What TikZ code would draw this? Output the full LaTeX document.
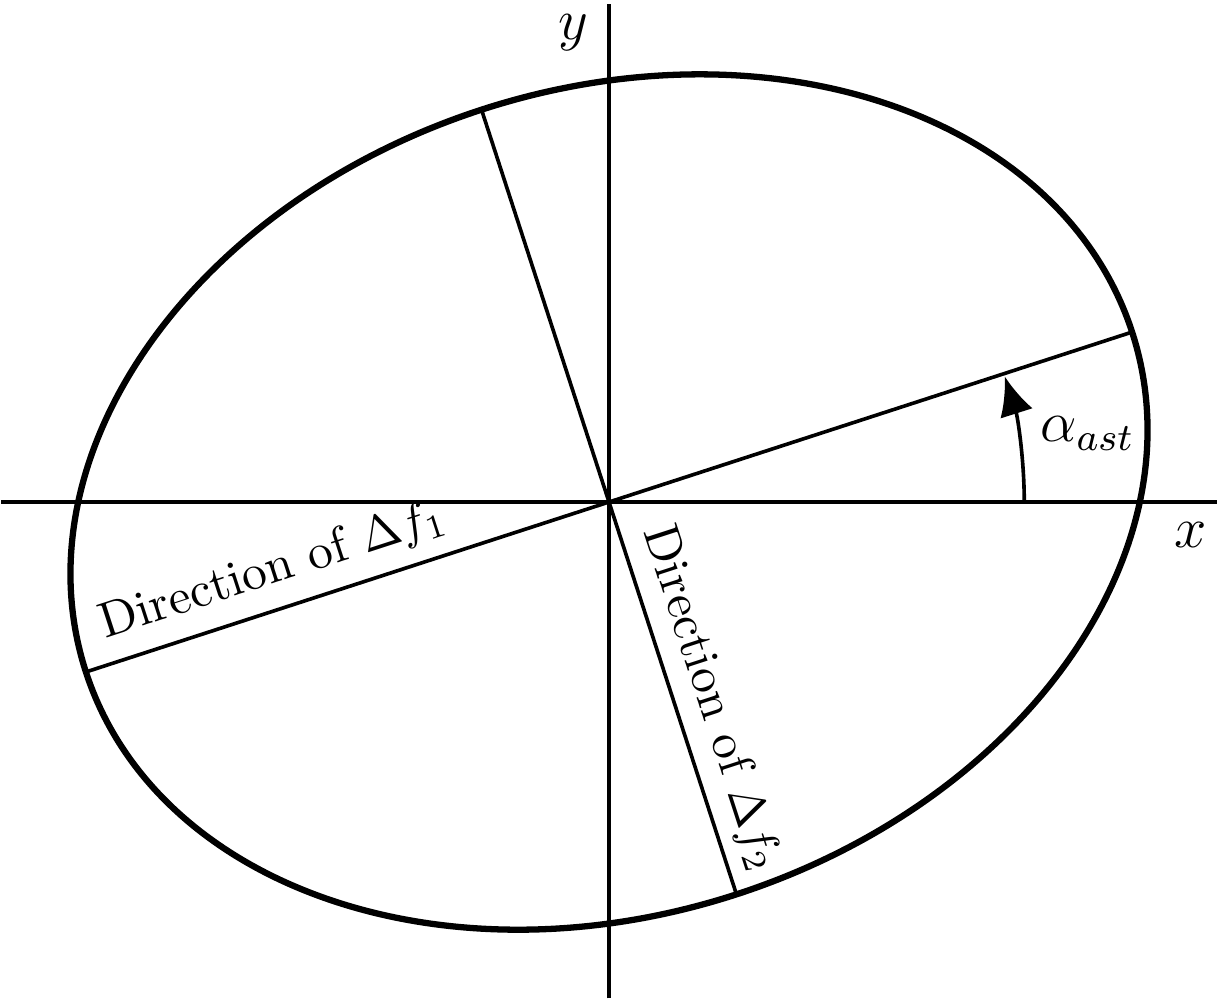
\documentclass[tikz,border=0pt]{standalone}
\usetikzlibrary{arrows.meta}
\begin{document}
\begin{tikzpicture}[
  axis/.style={line width=0.75pt},
  dirline/.style={line width=0.75pt},
  ell/.style={line width=1.3pt},
  lbl/.style={font=\fontsize{10.3}{12}\selectfont},
  biglbl/.style={font=\fontsize{12}{14}\selectfont},
]
\useasboundingbox (-4.429,-3.629) rectangle (4.429,3.651);
\coordinate (O) at (0,0);
\coordinate (xl) at (-4.42,0);
\coordinate (xr) at (4.42,0);
\coordinate (yb) at (0,-3.61);
\coordinate (yt) at (0,3.62);
\draw[axis] (xl) -- (xr);
\draw[axis] (yb) -- (yt);
\draw[ell,rotate=18] (O) ellipse (4 and 3);
\coordinate (A1) at (18:4);
\coordinate (A2) at (198:4);
\coordinate (B1) at (108:3);
\coordinate (B2) at (288:3);
\draw[dirline] (A2) -- node[lbl,sloped,above,pos=0.19,inner sep=3pt] {Direction of $\Delta f_1$} (A1);
\draw[dirline] (B1) -- node[lbl,sloped,above,pos=0.765,inner sep=2.5pt] {Direction of $\Delta f_2$} (B2);
\coordinate (arcs) at (3.02,0);
\draw[dirline,-{Latex[length=8pt,width=7pt]}] (arcs) arc[start angle=0,end angle=17.6,radius=3.02];
\node[biglbl] (alpha) at (3.48,0.5) {$\alpha_{ast}$};
\node[biglbl] (xlab) at (4.23,-0.24) {$x$};
\node[biglbl] (ylab) at (-0.26,3.41) {$y$};
\end{tikzpicture}
\end{document}
